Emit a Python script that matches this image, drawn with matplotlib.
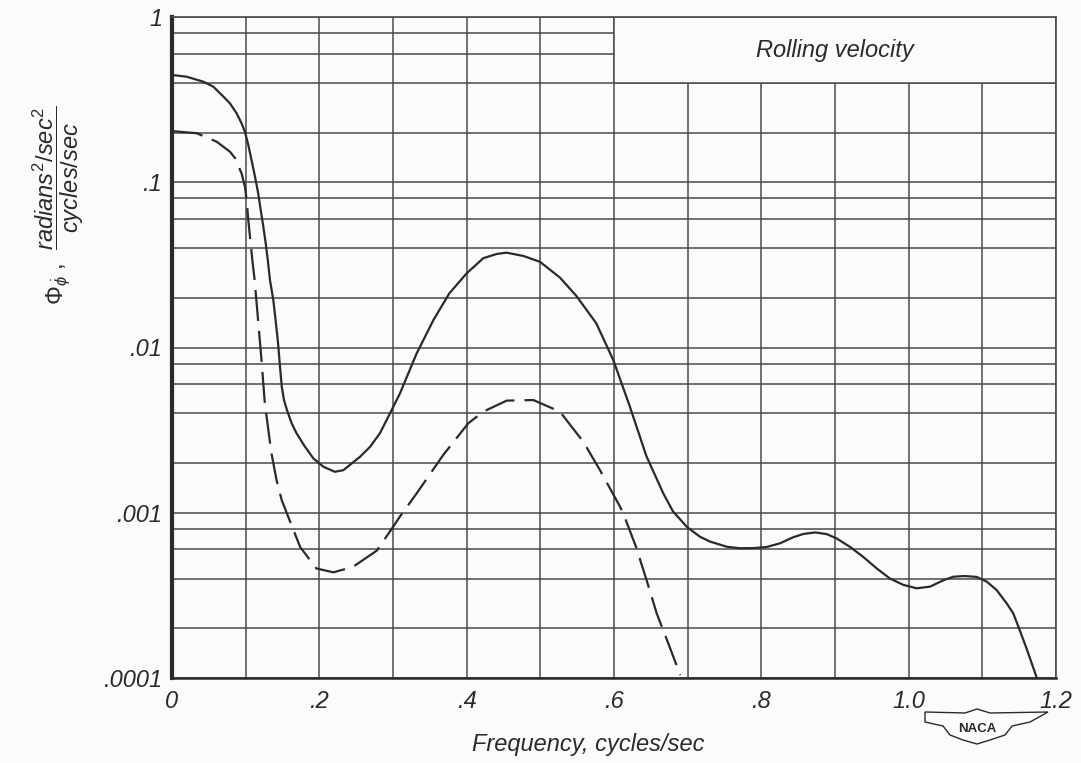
import matplotlib
matplotlib.use("Agg")
import matplotlib.pyplot as plt
from matplotlib.patches import Rectangle, Polygon
from matplotlib.ticker import FixedLocator, NullFormatter, LogLocator

# ---- data ----
solid_f = [0.0, 0.020, 0.0425, 0.056, 0.0697, 0.0787, 0.0878, 0.0945, 0.099, 0.1036,
           0.108, 0.1127, 0.117, 0.1204, 0.124, 0.1272, 0.130, 0.1330, 0.1375, 0.1411,
           0.144, 0.1466, 0.149, 0.1520, 0.156, 0.1624, 0.169, 0.1805, 0.192, 0.2054,
           0.221, 0.2326, 0.2416, 0.2552, 0.269, 0.2823, 0.296, 0.3095, 0.3321, 0.355,
           0.3766, 0.400, 0.4225, 0.4407, 0.454, 0.477, 0.4995, 0.5266, 0.549, 0.576,
           0.599, 0.6216, 0.644, 0.6669, 0.680, 0.699, 0.7167, 0.730, 0.7529,
           0.771, 0.789, 0.807, 0.8253, 0.843, 0.857, 0.873, 0.8886, 0.902, 0.920,
           0.938, 0.9565, 0.9745, 0.9927, 1.011, 1.0289, 1.047, 1.0605, 1.076, 1.0922,
           1.106, 1.1193, 1.133, 1.142, 1.149, 1.160, 1.174]
solid_v = [0.446, 0.435, 0.406, 0.379, 0.330, 0.300, 0.261, 0.227, 0.202, 0.168,
           0.136, 0.108, 0.0857, 0.068, 0.0538, 0.0427, 0.0339, 0.0256, 0.0194, 0.0140,
           0.0106, 0.00765, 0.0058, 0.00481, 0.00419, 0.00348, 0.00303, 0.00251, 0.00213, 0.0019,
           0.00177, 0.00181, 0.00195, 0.00218, 0.00251, 0.00303, 0.0040, 0.00528, 0.0092, 0.0147,
           0.0213, 0.0281, 0.0347, 0.0368, 0.0375, 0.0358, 0.0330, 0.0265, 0.0205, 0.0140,
           0.0084, 0.00438, 0.0022, 0.00131, 0.00102, 0.00082, 0.000716, 0.00067, 0.000623,
           0.00061, 0.000611, 0.00062, 0.000653, 0.00071, 0.000744, 0.00076, 0.000743, 0.00070, 0.000623,
           0.000542, 0.000461, 0.00040, 0.000366, 0.000349, 0.000357, 0.00039, 0.00041, 0.000414, 0.000409,
           0.000383, 0.000341, 0.000283, 0.000246, 0.000204, 0.000151, 0.000100]

dash_f = [0.0, 0.0335, 0.0606, 0.0787, 0.0878, 0.0923, 0.0945, 0.099, 0.1013, 0.1036,
          0.109, 0.1122, 0.1145, 0.1215, 0.126, 0.135, 0.142, 0.149, 0.156, 0.174,
          0.196, 0.219, 0.2455, 0.278, 0.300, 0.3095, 0.3321, 0.3683, 0.4022,
          0.4226, 0.4543, 0.4905, 0.5266, 0.5583, 0.581, 0.6081, 0.6126, 0.630, 0.6443,
          0.658, 0.6737, 0.690]
dash_v = [0.204, 0.198, 0.176, 0.153, 0.136, 0.119, 0.113, 0.094, 0.078, 0.059,
          0.0339, 0.0256, 0.0194, 0.0084, 0.0046, 0.00229, 0.00157, 0.00119, 0.00099, 0.00062,
          0.00046, 0.000436, 0.00047, 0.00059, 0.00082, 0.00095, 0.00131, 0.00224, 0.00348,
          0.00409, 0.00477, 0.00481, 0.00409, 0.00269, 0.00181, 0.00109, 0.00099, 0.00062, 0.00039,
          0.000246, 0.000162, 0.000104]

x_ticks = [0.0, 0.2, 0.4, 0.6, 0.8, 1.0, 1.2]
x_ticklabels = ["0", ".2", ".4", ".6", ".8", "1.0", "1.2"]
y_ticks = [1e-4, 1e-3, 1e-2, 1e-1, 1.0]
y_ticklabels = [".0001", ".001", ".01", ".1", "1"]

BG = "#fbfbf9"
INK = "#2a2a2a"
GRID = "#4a4a4a"
FONT = "Liberation Sans"

plt.rcParams["font.family"] = [FONT, "DejaVu Sans"]
plt.rcParams["mathtext.fontset"] = "custom"
plt.rcParams["mathtext.rm"] = FONT
plt.rcParams["mathtext.it"] = FONT + ":italic"
plt.rcParams["mathtext.bf"] = FONT + ":bold"

W, H = 1081, 763
fig = plt.figure(figsize=(W / 100, H / 100), dpi=100, facecolor=BG)
ax = fig.add_axes([172 / W, 1 - 678 / H, (1056 - 172) / W, (678 - 17) / H])
ax.set_facecolor(BG)

ax.set_yscale("log")
ax.set_xlim(0, 1.2)
ax.set_ylim(1e-4, 1.0)

ax.xaxis.set_major_locator(FixedLocator(x_ticks))
ax.xaxis.set_minor_locator(FixedLocator([0.1, 0.3, 0.5, 0.7, 0.9, 1.1]))
ax.set_xticklabels(x_ticklabels)
ax.yaxis.set_major_locator(FixedLocator(y_ticks))
ax.yaxis.set_minor_locator(LogLocator(base=10, subs=[2, 4, 6, 8]))
ax.yaxis.set_minor_formatter(NullFormatter())
ax.set_yticklabels(y_ticklabels)

ax.tick_params(which="both", length=0)
ax.tick_params(axis="x", pad=9, labelsize=17, labelcolor=INK)
ax.tick_params(axis="y", pad=7, labelsize=17, labelcolor=INK)
for lab in ax.get_xticklabels() + ax.get_yticklabels():
    lab.set_fontstyle("italic")

ax.set_axisbelow(True)
ax.grid(True, which="both", color=GRID, lw=1.1)

for s in ["top", "right"]:
    ax.spines[s].set_linewidth(1.2)
    ax.spines[s].set_color(GRID)
ax.spines["left"].set_linewidth(3.0)
ax.spines["left"].set_color(INK)
ax.spines["bottom"].set_linewidth(1.8)
ax.spines["bottom"].set_color(INK)

# blank title box in the upper right
box = Rectangle((0.6, 0.4), 0.6, 0.6, facecolor=BG, edgecolor=GRID, lw=1.1, zorder=1)
ax.add_patch(box)
ax.text(0.9, 0.63, "Rolling velocity", ha="center", va="center", fontsize=17,
        style="italic", color=INK, zorder=3)

ax.plot(solid_f, solid_v, color=INK, lw=1.6, zorder=2, solid_joinstyle="round")
ax.plot(dash_f, dash_v, color=INK, lw=1.6, zorder=2, dashes=(14, 4.5),
        dash_joinstyle="round")

# axis labels
fig.text(588 / W, 1 - 745 / H, "Frequency, cycles/sec", ha="center", va="center",
         fontsize=17, style="italic", color=INK)
fig.text(58 / W, 1 - 205 / H,
         r"$\mathit{\Phi}_{\dot{\phi}}$ ,  $\dfrac{radians^2/sec^2}{cycles/sec}$",
         rotation=90, ha="center", va="center", fontsize=17, color=INK)

# NACA emblem
pts = [(925, 712), (965, 713), (977, 709), (990, 713), (1048, 712), (1030, 722),
       (1012, 726), (1005, 735), (990, 740), (977, 744), (963, 740), (950, 735),
       (943, 726), (925, 722)]
poly = Polygon([(x / W, 1 - y / H) for x, y in pts], closed=True, fill=False,
               edgecolor=INK, lw=1.0, transform=fig.transFigure)
fig.add_artist(poly)
fig.text(977 / W, 1 - 729 / H, "NACA", ha="center", va="center", fontsize=9.5,
         fontweight="bold", color=INK)

fig.savefig("out.png", dpi=100, facecolor=BG)
